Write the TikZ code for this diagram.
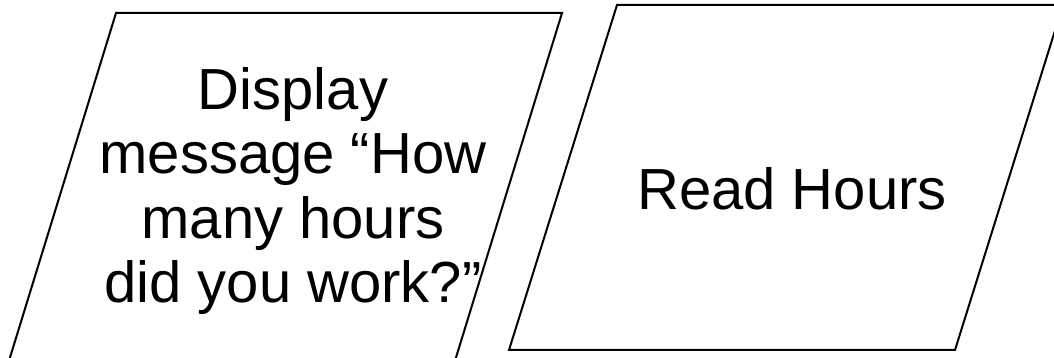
\documentclass[tikz,border=0pt]{standalone}
\usepackage{fontspec}
\setmainfont{Liberation Sans}

\begin{document}
\begin{tikzpicture}[x=1pt,y=1pt]
\tikzset{
  io/.style={draw=black,line width=2pt,line join=miter},
  iotext/.style={align=center,text=black,inner sep=0pt,
                 font=\fontsize{58}{64.5}\selectfont}
}
\clip (0,0) rectangle (1054,358);

% ---------- display step (runs past the lower edge) ----------------------
\draw[io] (116,345) -- (562,345) -- (454,-6) -- (8,-6) -- cycle;
\node[iotext] (display) at (293,167)
  {Display\\message “How\\many hours\\did you work?”};

% ---------- read step (runs past the right edge) -------------------------
\draw[io] (617,353) -- (1063,353) -- (955,8) -- (509,8) -- cycle;
\node[iotext] (read) at (792,169) {Read Hours};
\end{tikzpicture}
\end{document}
